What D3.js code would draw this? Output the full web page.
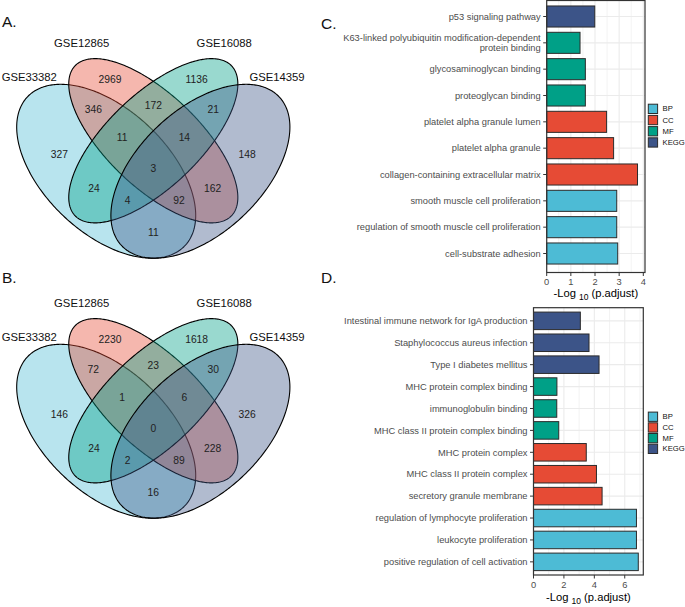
<!DOCTYPE html>
<html><head><meta charset="utf-8">
<script src="https://cdn.jsdelivr.net/npm/d3@7"></script>
<style>
body{margin:0;background:#fff}
svg{display:block}
text{font-family:"Liberation Sans",Arial,Helvetica,sans-serif}
</style>
</head><body>
<svg id="chart" width="685" height="607"></svg>
<script>
// ---------------- DATA ----------------
const vennSets = ["GSE33382", "GSE12865", "GSE16088", "GSE14359"];
const vennRegions = ["1","2","3","4","12","23","34","123","234","1234","13","24","134","124","14"];
const vennA = [327, 2969, 1136, 148, 346, 172, 21, 11, 14, 3, 24, 162, 4, 92, 11];
const vennB = [146, 2230, 1618, 326, 72, 23, 30, 1, 6, 0, 24, 228, 2, 89, 16];

const categories = ["BP", "CC", "MF", "KEGG"];
const categoryColors = ["#4DBBD5", "#E64B35", "#00A087", "#3C5488"];

const termsC = ["p53 signaling pathway",
  "K63-linked polyubiquitin modification-dependent\nprotein binding",
  "glycosaminoglycan binding", "proteoglycan binding",
  "platelet alpha granule lumen", "platelet alpha granule",
  "collagen-containing extracellular matrix",
  "smooth muscle cell proliferation",
  "regulation of smooth muscle cell proliferation",
  "cell-substrate adhesion"];
const valuesC = [1.99, 1.38, 1.60, 1.60, 2.48, 2.77, 3.76, 2.90, 2.90, 2.94];
const groupsC = ["KEGG", "MF", "MF", "MF", "CC", "CC", "CC", "BP", "BP", "BP"];
const ticksC = [0, 1, 2, 3, 4];

const termsD = ["Intestinal immune network for IgA production",
  "Staphylococcus aureus infection", "Type I diabetes mellitus",
  "MHC protein complex binding", "immunoglobulin binding",
  "MHC class II protein complex binding", "MHC protein complex",
  "MHC class II protein complex", "secretory granule membrane",
  "regulation of lymphocyte proliferation", "leukocyte proliferation",
  "positive regulation of cell activation"];
const valuesD = [3.08, 3.65, 4.31, 1.54, 1.53, 1.66, 3.47, 4.14, 4.51, 6.77, 6.77, 6.89];
const groupsD = ["KEGG", "KEGG", "KEGG", "MF", "MF", "MF", "CC", "CC", "CC", "BP", "BP", "BP"];
const ticksD = [0, 2, 4, 6];

// ---------------- LAYOUT ----------------
const svg = d3.select("#chart");
const color = d3.scaleOrdinal(categories, categoryColors);

// Venn geometry in unit (npc) coordinates
const ellipses = [
  {cx: 0.35, cy: 0.47, a: 0.35, b: 0.20, rot: -45},
  {cx: 0.50, cy: 0.57, a: 0.35, b: 0.15, rot: -45},
  {cx: 0.50, cy: 0.57, a: 0.35, b: 0.15, rot: 45},
  {cx: 0.65, cy: 0.47, a: 0.35, b: 0.20, rot: 45}
];
const regionPos = {"1":[0.201,0.526],"2":[0.362,0.772],"3":[0.638,0.772],"4":[0.799,0.526],
  "12":[0.309,0.674],"23":[0.5,0.687],"34":[0.691,0.674],"123":[0.401,0.58],"234":[0.599,0.58],
  "1234":[0.5,0.48],"13":[0.311,0.414],"24":[0.689,0.414],"134":[0.4185,0.376],"124":[0.5815,0.376],
  "14":[0.5,0.27]};
const setLabelPos = [[0.105,0.78],[0.272,0.891],[0.726,0.891],[0.894,0.78]];

function drawVenn(values, yOffset) {
  const vx = d3.scaleLinear([0, 1], [-3.7, 310.3]);
  const vy = d3.scaleLinear([0, 1], [314.6 + yOffset, 9.6 + yOffset]);
  const g = svg.append("g");
  const line = d3.line().x(p => vx(p[0])).y(p => vy(p[1])).curve(d3.curveLinearClosed);
  ellipses.forEach((e, i) => {
    const r = e.rot * Math.PI / 180;
    const pts = d3.range(0, 360, 1).map(deg => {
      const t = deg * Math.PI / 180;
      return [e.cx + e.a * Math.cos(t) * Math.cos(r) - e.b * Math.sin(t) * Math.sin(r),
              e.cy + e.a * Math.cos(t) * Math.sin(r) + e.b * Math.sin(t) * Math.cos(r)];
    });
    g.append("path").attr("d", line(pts))
      .attr("fill", categoryColors[i]).attr("fill-opacity", 0.4)
      .attr("stroke", "#000").attr("stroke-width", 1.1);
  });
  g.selectAll("text.num").data(vennRegions).join("text")
    .attr("class", "num")
    .attr("x", d => vx(regionPos[d][0]))
    .attr("y", d => vy(regionPos[d][1]))
    .attr("dy", "0.36em").attr("text-anchor", "middle")
    .attr("font-size", 10.3).attr("fill", "#222")
    .text((d, i) => values[i]);
  g.selectAll("text.set").data(vennSets).join("text")
    .attr("class", "set")
    .attr("x", (d, i) => vx(setLabelPos[i][0]))
    .attr("y", (d, i) => vy(setLabelPos[i][1]))
    .attr("dy", "0.36em").attr("text-anchor", "middle")
    .attr("font-size", 11.3).attr("fill", "#111")
    .text(d => d);
}
drawVenn(vennA, 0);
drawVenn(vennB, 260);

// ---------------- BAR CHARTS ----------------
function drawBars(opt) {
  const {terms, values, groups, ticks, minor, xDomainMax, left, right, top, bottom, bandTop, bandBottom,
         tickLabelY, titleY, legendY, legendStep} = opt;
  const x = d3.scaleLinear([0, xDomainMax], [left, right]);
  const y = d3.scaleBand(terms, [bandTop, bandBottom]).paddingInner(0.2).paddingOuter(0.2);
  const g = svg.append("g");
  // panel background
  g.append("rect").attr("x", left).attr("y", top).attr("width", right - left).attr("height", bottom - top)
    .attr("fill", "#fff");
  // minor grid
  g.selectAll("line.minor").data(minor).join("line")
    .attr("x1", d => x(d)).attr("x2", d => x(d)).attr("y1", top).attr("y2", bottom)
    .attr("stroke", "#EBEBEB").attr("stroke-width", 0.6);
  // major grid
  g.selectAll("line.majx").data(ticks).join("line")
    .attr("x1", d => x(d)).attr("x2", d => x(d)).attr("y1", top).attr("y2", bottom)
    .attr("stroke", "#EBEBEB").attr("stroke-width", 1.1);
  g.selectAll("line.majy").data(terms).join("line")
    .attr("x1", left).attr("x2", right)
    .attr("y1", d => y(d) + y.bandwidth() / 2).attr("y2", d => y(d) + y.bandwidth() / 2)
    .attr("stroke", "#EBEBEB").attr("stroke-width", 1.1);
  // bars
  g.selectAll("rect.bar").data(terms).join("rect")
    .attr("x", x(0)).attr("y", d => y(d))
    .attr("width", (d, i) => x(values[i]) - x(0))
    .attr("height", y.bandwidth())
    .attr("fill", (d, i) => color(groups[i]))
    .attr("stroke", "#2b2b2b").attr("stroke-width", 1);
  // border
  g.append("rect").attr("x", left).attr("y", top).attr("width", right - left).attr("height", bottom - top)
    .attr("fill", "none").attr("stroke", "#333").attr("stroke-width", 1.2);
  // y axis ticks & labels
  g.selectAll("line.yt").data(terms).join("line")
    .attr("x1", left - 3.5).attr("x2", left)
    .attr("y1", d => y(d) + y.bandwidth() / 2).attr("y2", d => y(d) + y.bandwidth() / 2)
    .attr("stroke", "#333").attr("stroke-width", 1);
  g.selectAll("text.yl").data(terms).join("text")
    .attr("x", left - 6).attr("text-anchor", "end")
    .attr("font-size", 9.3).attr("fill", "#4D4D4D")
    .each(function(d) {
      const lines = d.split("\n");
      const cy = y(d) + y.bandwidth() / 2;
      const lh = 10.2;
      const t = d3.select(this);
      lines.forEach((ln, k) => {
        t.append("tspan").attr("x", left - 6)
          .attr("y", cy + (k - (lines.length - 1) / 2) * lh)
          .attr("dy", "0.35em").text(ln);
      });
    });
  // x axis ticks & labels
  g.selectAll("line.xt").data(ticks).join("line")
    .attr("x1", d => x(d)).attr("x2", d => x(d)).attr("y1", bottom).attr("y2", bottom + 3.5)
    .attr("stroke", "#333").attr("stroke-width", 1);
  g.selectAll("text.xl").data(ticks).join("text")
    .attr("x", d => x(d)).attr("y", tickLabelY).attr("dy", "0.35em")
    .attr("text-anchor", "middle").attr("font-size", 9.3).attr("fill", "#4D4D4D")
    .text(d => d);
  // axis title
  const title = g.append("text").attr("x", (left + right) / 2).attr("y", titleY)
    .attr("text-anchor", "middle").attr("font-size", 11.2).attr("fill", "#000");
  title.append("tspan").text("-Log ");
  title.append("tspan").attr("font-size", 8.5).attr("dy", 3).text("10");
  title.append("tspan").attr("dy", -3).text(" (p.adjust)");
  // legend
  const lg = g.append("g");
  categories.forEach((c, i) => {
    const cy = legendY + i * legendStep;
    lg.append("rect").attr("x", 648.3).attr("y", cy - 4.6).attr("width", 9.3).attr("height", 9.3)
      .attr("fill", color(c)).attr("stroke", "#2b2b2b").attr("stroke-width", 1);
    lg.append("text").attr("x", 662.5).attr("y", cy).attr("dy", "0.35em")
      .attr("font-size", 7.7).attr("fill", "#111").text(c);
  });
}

drawBars({terms: termsC, values: valuesC, groups: groupsC, ticks: ticksC, minor: [0.5, 1.5, 2.5, 3.5],
  xDomainMax: 4.07, left: 546.7, right: 645, top: 0.5, bottom: 272.5, bandTop: 0.7, bandBottom: 269.3,
  tickLabelY: 282, titleY: 297, legendY: 108.8, legendStep: 11.2});
drawBars({terms: termsD, values: valuesD, groups: groupsD, ticks: ticksD, minor: [1, 3, 5, 7],
  xDomainMax: 7.22, left: 533.5, right: 643.3, top: 307.7, bottom: 575, bandTop: 307.7, bandBottom: 575,
  tickLabelY: 585, titleY: 601, legendY: 416.7, legendStep: 10.7});

// panel letters
const letters = [["A.", 2, 27], ["B.", 2, 283], ["C.", 321, 29], ["D.", 321, 283]];
svg.selectAll("text.letter").data(letters).join("text")
  .attr("class", "letter").attr("x", d => d[1]).attr("y", d => d[2])
  .attr("font-family", "'Open Sans', sans-serif").attr("font-size", 15.5).attr("fill", "#111")
  .text(d => d[0]);
</script>
</body></html>
